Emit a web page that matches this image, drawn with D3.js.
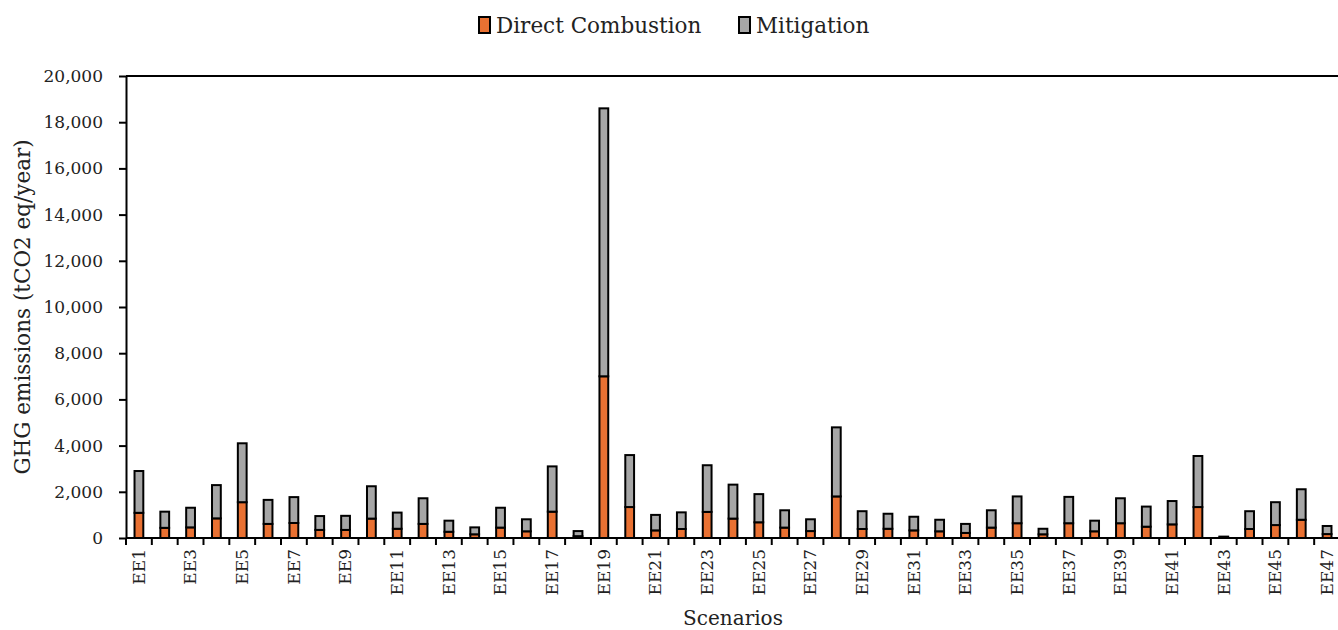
<!DOCTYPE html>
<html>
<head>
<meta charset="utf-8">
<script src="https://cdn.jsdelivr.net/npm/d3@7"></script>
<style>
  html, body { margin: 0; padding: 0; background: #fff; }
  svg { display: block; font-family: "DejaVu Serif", "Liberation Serif", serif; }
</style>
</head>
<body>
<svg id="chart" width="1338" height="630"></svg>
<script>
// Scenario names EE1..EE47
const scenarios = ["EE1","EE2","EE3","EE4","EE5","EE6","EE7","EE8","EE9","EE10",
  "EE11","EE12","EE13","EE14","EE15","EE16","EE17","EE18","EE19","EE20",
  "EE21","EE22","EE23","EE24","EE25","EE26","EE27","EE28","EE29","EE30",
  "EE31","EE32","EE33","EE34","EE35","EE36","EE37","EE38","EE39","EE40",
  "EE41","EE42","EE43","EE44","EE45","EE46","EE47"];

// Direct combustion emissions (tCO2 eq/year)
const directCombustion = [1090, 440, 460, 850, 1550, 610, 650, 350, 350, 840,
  400, 610, 270, 160, 450, 290, 1140, 80, 7000, 1340,
  330, 390, 1130, 840, 680, 450, 300, 1800, 390, 400,
  330, 290, 220, 450, 640, 160, 640, 290, 640, 490,
  590, 1340, 20, 390, 560, 790, 170];

// Mitigation emissions (tCO2 eq/year), stacked on top
const mitigation = [1810, 700, 850, 1440, 2550, 1040, 1120, 600, 610, 1400,
  700, 1110, 480, 300, 860, 520, 1960, 220, 11600, 2250,
  670, 720, 2020, 1470, 1220, 750, 510, 2990, 770, 650,
  590, 500, 390, 750, 1160, 240, 1140, 460, 1080, 870,
  1010, 2210, 40, 770, 990, 1320, 350];

const yTicks = [0, 2000, 4000, 6000, 8000, 10000, 12000, 14000, 16000, 18000, 20000];

const seriesNames = ["Direct Combustion", "Mitigation"];
const seriesColors = ["#E97132", "#A6A6A6"];

const svg = d3.select("#chart");
const plotLeft = 126, plotTop = 76, plotBottom = 538, plotRight = 1340;

const rows = scenarios.map((s, i) => ({
  name: s,
  "Direct Combustion": directCombustion[i],
  "Mitigation": mitigation[i]
}));

const x = d3.scaleBand()
  .domain(scenarios)
  .range([plotLeft, plotRight])
  .paddingInner(0.66)
  .paddingOuter(0.33);

const y = d3.scaleLinear().domain([0, 20000]).range([plotBottom, plotTop]);

const stack = d3.stack().keys(seriesNames)(rows);

// stacked bars
svg.append("g").selectAll("g")
  .data(stack)
  .join("g")
  .attr("fill", (d, i) => seriesColors[i])
  .selectAll("rect")
  .data(d => d)
  .join("rect")
  .attr("x", d => x(d.data.name))
  .attr("width", x.bandwidth())
  .attr("y", d => y(d[1]))
  .attr("height", d => Math.max(0, y(d[0]) - y(d[1])))
  .attr("stroke", "#000")
  .attr("stroke-width", 2);

// top frame line
svg.append("line")
  .attr("x1", plotLeft).attr("x2", 1338)
  .attr("y1", y(20000)).attr("y2", y(20000))
  .attr("stroke", "#000").attr("stroke-width", 2);

// y axis
const yAxis = svg.append("g")
  .attr("transform", `translate(${plotLeft},0)`)
  .call(d3.axisLeft(y).tickValues(yTicks).tickSize(7).tickSizeOuter(0)
    .tickFormat(d3.format(",")));
yAxis.select(".domain").attr("stroke-width", 2);
yAxis.selectAll(".tick line").attr("stroke-width", 2);
yAxis.selectAll("text")
  .attr("font-family", "DejaVu Serif, serif")
  .attr("font-size", 17)
  .attr("fill", "#222")
  .attr("x", -23);

// x axis: labels on odd-numbered scenarios
const xAxis = svg.append("g")
  .attr("transform", `translate(0,${plotBottom})`)
  .call(d3.axisBottom(x).tickSize(0).tickSizeOuter(0)
    .tickFormat((d, i) => i % 2 === 0 ? d : ""));
xAxis.select(".domain").attr("stroke-width", 2).attr("d", `M${plotLeft},0H1338`);
xAxis.selectAll("text")
  .attr("font-family", "DejaVu Serif, serif")
  .attr("font-size", 17)
  .attr("fill", "#222")
  .attr("transform", "rotate(-90)")
  .attr("text-anchor", "end")
  .attr("dy", "0.34em")
  .attr("y", 0)
  .attr("x", -11);

// x tick marks at category boundaries
const step = x.step();
const boundaries = scenarios.map(s => x(s) + x.bandwidth() / 2 - step / 2);
svg.append("g").selectAll("line")
  .data(boundaries)
  .join("line")
  .attr("x1", d => d).attr("x2", d => d)
  .attr("y1", plotBottom).attr("y2", plotBottom + 7)
  .attr("stroke", "#000").attr("stroke-width", 2);

// axis titles
svg.append("text")
  .attr("transform", `translate(30,${(plotTop + plotBottom) / 2}) rotate(-90)`)
  .attr("text-anchor", "middle")
  .attr("font-size", 21.5)
  .attr("fill", "#222")
  .text("GHG emissions  (tCO2 eq/year)");

svg.append("text")
  .attr("x", 733).attr("y", 625)
  .attr("text-anchor", "middle")
  .attr("font-size", 20)
  .attr("fill", "#222")
  .text("Scenarios");

// legend
const legend = svg.append("g").attr("transform", "translate(478,25)");
const legendX = [0, 260];
seriesNames.forEach((name, i) => {
  const g = legend.append("g").attr("transform", `translate(${legendX[i]},0)`);
  g.append("rect")
    .attr("x", 1).attr("y", -8).attr("width", 11).attr("height", 16)
    .attr("fill", seriesColors[i]).attr("stroke", "#000").attr("stroke-width", 2);
  g.append("text")
    .attr("x", 18).attr("y", 0).attr("dy", "0.35em")
    .attr("font-size", 21.5)
    .attr("fill", "#222")
    .text(name);
});
</script>
</body>
</html>
